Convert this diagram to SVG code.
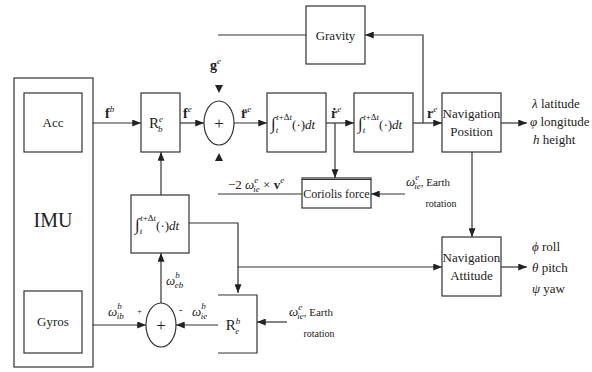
<svg xmlns="http://www.w3.org/2000/svg" width="592" height="372" viewBox="0 0 592 372">
<defs>
<marker id="ah" viewBox="0 0 10 8" refX="10" refY="4" markerWidth="9" markerHeight="7" markerUnits="userSpaceOnUse" orient="auto">
<path d="M0,0 L10,4 L0,8 z" fill="#222"/>
</marker>
</defs>
<style>
.b{fill:#fff;stroke:#333;stroke-width:1.2}
.l{fill:none;stroke:#333;stroke-width:1.2}
.a{fill:none;stroke:#333;stroke-width:1.2;marker-end:url(#ah)}
text{font-family:"Liberation Serif","Times New Roman","DejaVu Serif",Times,serif;fill:#222;font-size:13px}
.c{text-anchor:middle}
.m{font-style:italic}
.bf{font-weight:bold}
.s{font-size:9px}
.ig{font-size:17px}
</style>
<rect width="592" height="372" fill="#fff"/>

<g id="connectors">
<path class="a" d="M82,123 H141"/>
<path class="a" d="M180,123 H204"/>
<path class="a" d="M234,123 H267"/>
<path class="a" d="M326,123 H354"/>
<path class="a" d="M335,123 V178"/>
<path class="a" d="M413,123 H442"/>
<path class="a" d="M423,123 V35 H365"/>
<path class="l" d="M306,35 H218"/>
<path class="a" d="M501,123 H527"/>
<path class="a" d="M472,152 V237"/>
<path class="a" d="M501,267 H527"/>
<path class="a" d="M405,194 H371"/>
<path class="l" d="M302,194 H218"/>
<path d="M215,85 L223,85 L219,93 z" fill="#222"/>
<path d="M215,161 L223,161 L219,153 z" fill="#222"/>
<path class="a" d="M161,195 V152"/>
<path class="a" d="M161,303 V253"/>
<path class="a" d="M189,223 H238 V293"/>
<path class="a" d="M238,267 H442"/>
<path class="a" d="M82,325 H146"/>
<path class="a" d="M218,325 H176"/>
<path class="a" d="M287,322 H257"/>
</g>

<g id="imu">
<rect class="b" x="14" y="78" width="79" height="289" fill="none"/>
<text x="53" y="227" class="c" style="font-size:20px">IMU</text>
</g>
<g id="acc">
<rect class="b" x="24" y="93" width="58" height="59"/>
<text x="53" y="127" class="c">Acc</text>
</g>
<g id="gyros">
<rect class="b" x="24" y="291" width="58" height="62"/>
<text x="53" y="326" class="c">Gyros</text>
</g>
<g id="rbe">
<rect class="b" x="141" y="93" width="39" height="59"/>
<text x="156" y="128" class="c" style="font-size:15px">R<tspan class="m s" dy="-6">e</tspan><tspan class="m s" dx="-5" dy="10">b</tspan></text>
</g>
<g id="sum1">
<ellipse class="b" cx="219" cy="123" rx="15" ry="22"/>
<text x="219" y="129" class="c" style="font-size:17px">+</text>
</g>
<g id="int1">
<rect class="b" x="267" y="93" width="59" height="59"/>
<text x="271" y="129"><tspan class="ig">∫</tspan><tspan class="m s" dy="4">t</tspan><tspan class="s" dy="-13" dx="-2"><tspan class="m">t</tspan>+Δ<tspan class="m">t</tspan></tspan><tspan dy="9">(·)</tspan><tspan class="m">dt</tspan></text>
</g>
<g id="int2">
<rect class="b" x="354" y="93" width="59" height="59"/>
<text x="358" y="129"><tspan class="ig">∫</tspan><tspan class="m s" dy="4">t</tspan><tspan class="s" dy="-13" dx="-2"><tspan class="m">t</tspan>+Δ<tspan class="m">t</tspan></tspan><tspan dy="9">(·)</tspan><tspan class="m">dt</tspan></text>
</g>
<g id="gravity">
<rect class="b" x="306" y="6" width="59" height="58"/>
<text x="335.5" y="40" class="c">Gravity</text>
</g>
<g id="navpos">
<rect class="b" x="442" y="93" width="59" height="59"/>
<text x="471.5" y="118" class="c">Navigation</text>
<text x="471.5" y="136" class="c">Position</text>
</g>
<g id="navatt">
<rect class="b" x="442" y="237" width="59" height="59"/>
<text x="471.5" y="262" class="c">Navigation</text>
<text x="471.5" y="280" class="c">Attitude</text>
</g>
<g id="coriolis">
<rect class="b" x="302" y="178" width="69" height="30"/>
<path class="l" d="M302,179.5 H371" stroke-width="2"/>
<text x="336.5" y="198" class="c" style="font-size:12px">Coriolis force</text>
</g>
<g id="int3">
<rect class="b" x="131" y="195" width="58" height="58"/>
<text x="135" y="230"><tspan class="ig">∫</tspan><tspan class="m s" dy="4">t</tspan><tspan class="s" dy="-13" dx="-2"><tspan class="m">t</tspan>+Δ<tspan class="m">t</tspan></tspan><tspan dy="9">(·)</tspan><tspan class="m">dt</tspan></text>
</g>
<g id="sum2">
<ellipse class="b" cx="161" cy="325" rx="15" ry="22"/>
<text x="161" y="331" class="c" style="font-size:17px">+</text>
</g>
<g id="reb">
<path class="l" d="M218,295 H257 V353 H218"/>
<text x="233" y="330" class="c" style="font-size:15px">R<tspan class="m s" dy="-6">b</tspan><tspan class="m s" dx="-5" dy="10">e</tspan></text>
</g>

<g id="labels">
<text x="105" y="118" class="bf" style="font-size:14px">f<tspan class="m s" dy="-6" font-weight="normal">b</tspan></text>
<text x="183" y="118" class="bf" style="font-size:14px">f<tspan class="m s" dy="-6" font-weight="normal">e</tspan></text>
<text x="210" y="70" class="bf" style="font-size:14px">g<tspan class="m s" dy="-6" font-weight="normal">e</tspan></text>
<text x="241" y="118" class="bf" style="font-size:14px">r̈<tspan class="m s" dy="-6" font-weight="normal">e</tspan></text>
<text x="331" y="118" class="bf" style="font-size:14px">ṙ<tspan class="m s" dy="-6" font-weight="normal">e</tspan></text>
<text x="427" y="118" class="bf" style="font-size:14px">r<tspan class="m s" dy="-6" font-weight="normal">e</tspan></text>
<text x="532" y="108"><tspan class="m">λ</tspan> latitude</text>
<text x="530" y="126"><tspan class="m">φ</tspan> longitude</text>
<text x="533" y="144"><tspan class="m">h</tspan> height</text>
<text x="532" y="251"><tspan class="m">ϕ</tspan> roll</text>
<text x="532" y="272"><tspan class="m">θ</tspan> pitch</text>
<text x="532" y="293"><tspan class="m">ψ</tspan> yaw</text>
<text x="228" y="189" style="font-size:13px">−2 <tspan class="m">ω</tspan><tspan class="m s" dy="-6">e</tspan><tspan class="m s" dx="-5" dy="9">ie</tspan><tspan dy="-3"> × </tspan><tspan class="bf">v</tspan><tspan class="m s" dy="-6">e</tspan></text>
<text x="406" y="186" style="font-size:13px"><tspan class="m">ω</tspan><tspan class="m s" dy="-6">e</tspan><tspan class="m s" dx="-5" dy="9">ie</tspan><tspan dy="-3" style="font-size:11px">, Earth</tspan></text>
<text x="441" y="207" class="c" style="font-size:10px">rotation</text>
<text x="289" y="316" style="font-size:13px"><tspan class="m">ω</tspan><tspan class="m s" dy="-6">e</tspan><tspan class="m s" dx="-5" dy="9">ie</tspan><tspan dy="-3" style="font-size:11px">, Earth</tspan></text>
<text x="319" y="337" class="c" style="font-size:10px">rotation</text>
<text x="108" y="316" style="font-size:13px"><tspan class="m">ω</tspan><tspan class="m s" dy="-7">b</tspan><tspan class="m s" dx="-5" dy="10">ib</tspan></text>
<text x="137" y="314" style="font-size:9px">+</text>
<text x="179" y="313" style="font-size:10px">-</text>
<text x="192" y="316" style="font-size:13px"><tspan class="m">ω</tspan><tspan class="m s" dy="-7">b</tspan><tspan class="m s" dx="-5" dy="10">ie</tspan></text>
<text x="166" y="285" style="font-size:13px"><tspan class="m">ω</tspan><tspan class="m s" dy="-7">b</tspan><tspan class="m s" dx="-5" dy="10">eb</tspan></text>
</g>
</svg>
